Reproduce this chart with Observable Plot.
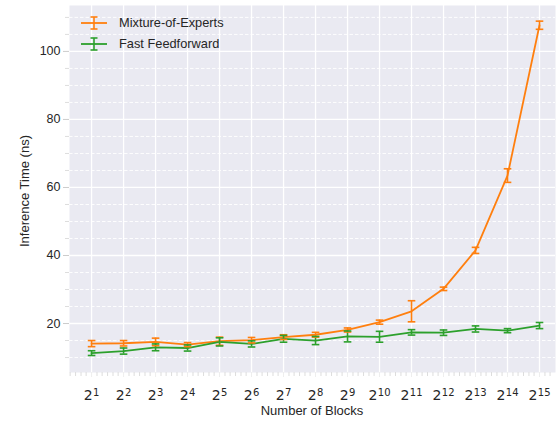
<!DOCTYPE html>
<html>
<head>
<meta charset="utf-8">
<script src="https://cdn.jsdelivr.net/npm/d3@7"></script>
<script src="https://cdn.jsdelivr.net/npm/@observablehq/plot@0.6"></script>
<style>
  html, body { margin: 0; padding: 0; background: #fff; }
  #wrap { position: relative; width: 556px; height: 421px; font-family: "Liberation Sans", Arial, sans-serif; color: #262626; overflow: hidden; }
  #legend { position: absolute; left: 80px; top: 12px; font-size: 12.8px; }
  .item { display: flex; align-items: center; height: 21px; }
  .item svg { margin-right: 11px; }
  .axlabel { position: absolute; font-size: 13px; line-height: 13px; white-space: nowrap; }
  #xlabel { left: 312px; top: 404px; transform: translateX(-50%); }
  #ylabel { left: 23.5px; top: 191px; transform: translate(-50%, -50%) rotate(-90deg); }
</style>
</head>
<body>
<div id="wrap">
  <div id="chart"></div>
  <div id="legend"></div>
  <div id="xlabel" class="axlabel">Number of Blocks</div>
  <div id="ylabel" class="axlabel">Inference Time (ns)</div>
</div>
<script>
const blocks = [2, 4, 8, 16, 32, 64, 128, 256, 512, 1024, 2048, 4096, 8192, 16384, 32768];
const exponents = [1, 2, 3, 4, 5, 6, 7, 8, 9, 10, 11, 12, 13, 14, 15];
const moe    = [14.1, 14.2, 14.6, 13.8, 14.8, 15.1, 16.0, 16.7, 18.1, 20.4, 23.6, 30.2, 41.5, 63.5, 107.7];
const moeErr = [0.9, 0.8, 1.1, 0.6, 1.2, 0.8, 0.7, 0.7, 0.6, 0.6, 3.1, 0.5, 0.9, 2.0, 1.2];
const fff    = [11.3, 11.9, 13.0, 12.8, 14.6, 14.0, 15.5, 15.0, 16.2, 16.1, 17.4, 17.3, 18.4, 17.9, 19.4];
const fffErr = [0.7, 0.9, 1.0, 0.9, 1.2, 0.9, 1.0, 1.2, 1.6, 1.6, 0.8, 0.8, 0.9, 0.6, 0.9];
const seriesNames = ["Mixture-of-Experts", "Fast Feedforward"];
const colors = ["#ff7f0e", "#2ca02c"];
const yMajor = [20, 40, 60, 80, 100];
const yMinor = [10, 15, 25, 30, 35, 45, 50, 55, 65, 70, 75, 85, 90, 95, 105, 110];
const minorFrac = [0.17, 0.33, 0.5, 0.67, 0.83];

const rows = [];
[[moe, moeErr], [fff, fffErr]].forEach(([vals, errs], s) => {
  blocks.forEach((b, i) => rows.push({series: seriesNames[s], x: b, y: vals[i], e: errs[i], color: colors[s]}));
});
const xLo = Math.pow(2, 0.31), xHi = Math.pow(2, 15.5);
const xMinor = [];
for (let n = 0; n <= 15; n++) for (const f of minorFrac) xMinor.push(Math.pow(2, n + f));

const cap = {
  draw(ctx, size) {
    const r = Math.sqrt(size / Math.PI);
    ctx.moveTo(-r, 0); ctx.lineTo(r, 0);
  }
};

const chart = Plot.plot({
  width: 556,
  height: 421,
  marginLeft: 69,
  marginRight: 1,
  marginTop: 5,
  marginBottom: 49,
  style: {fontFamily: '"Liberation Sans", Arial, sans-serif', color: "#262626", background: "#fff"},
  x: {type: "log", base: 2, domain: [xLo, xHi]},
  y: {domain: [5.6, 113.5]},
  marks: [
    Plot.frame({fill: "#EAEAF2", stroke: "none"}),
    Plot.ruleY(yMinor, {stroke: "#fff", strokeWidth: 0.9, strokeDasharray: "3.5,2"}),
    Plot.gridY(yMajor, {stroke: "#fff", strokeOpacity: 1, strokeWidth: 1.3}),
    Plot.gridX(blocks, {stroke: "#fff", strokeOpacity: 1, strokeWidth: 1.3}),
    Plot.axisY(yMinor, {tickSize: 4, stroke: "#ddd", tickFormat: () => "", label: null}),
    Plot.axisY(yMajor, {tickSize: 6, stroke: "#ccc", tickPadding: 3, fontSize: 12.5, label: null}),
    Plot.axisX(xMinor.filter(v => v > xLo && v < xHi), {tickSize: 4, stroke: "#ddd", tickFormat: () => "", label: null}),
    Plot.axisX(blocks, {tickSize: 5, stroke: "#eee", tickPadding: 12.5, fontSize: 14, tickFormat: d => "2^" + Math.round(Math.log2(d)), label: null}),
    Plot.line(rows, {x: "x", y: "y", z: "series", stroke: "color", strokeWidth: 1.8}),
    Plot.ruleX(rows, {x: "x", y1: d => d.y - d.e, y2: d => d.y + d.e, stroke: "color", strokeWidth: 1.6}),
    Plot.dot(rows, {x: "x", y: d => d.y - d.e, symbol: cap, r: 3.8, stroke: "color", fill: "none", strokeWidth: 1.6}),
    Plot.dot(rows, {x: "x", y: d => d.y + d.e, symbol: cap, r: 3.8, stroke: "color", fill: "none", strokeWidth: 1.6})
  ]
});
document.getElementById("chart").append(chart);

// render x tick labels as 2 with a superscript exponent
d3.select(chart).selectAll("text").each(function() {
  const t = this.textContent;
  if (!t.includes("^")) return;
  const [base, exp] = t.split("^");
  const sel = d3.select(this);
  sel.text(null).attr("font-family", '"DejaVu Sans", sans-serif').attr("font-size", 14);
  sel.append("tspan").text(base);
  sel.append("tspan").attr("font-size", 10).attr("dy", "-0.4em").attr("dx", "0.5").text(exp);
});

const legend = document.getElementById("legend");
seriesNames.forEach((name, i) => {
  const item = document.createElement("div");
  item.className = "item";
  item.innerHTML = `<svg width="28" height="14"><line x1="1" x2="27" y1="7" y2="7" stroke="${colors[i]}" stroke-width="1.8"/><line x1="14" x2="14" y1="1" y2="13" stroke="${colors[i]}" stroke-width="1.6"/><line x1="10.5" x2="17.5" y1="1" y2="1" stroke="${colors[i]}" stroke-width="1.6"/><line x1="10.5" x2="17.5" y1="13" y2="13" stroke="${colors[i]}" stroke-width="1.6"/></svg><span>${name}</span>`;
  legend.append(item);
});
</script>
</body>
</html>
